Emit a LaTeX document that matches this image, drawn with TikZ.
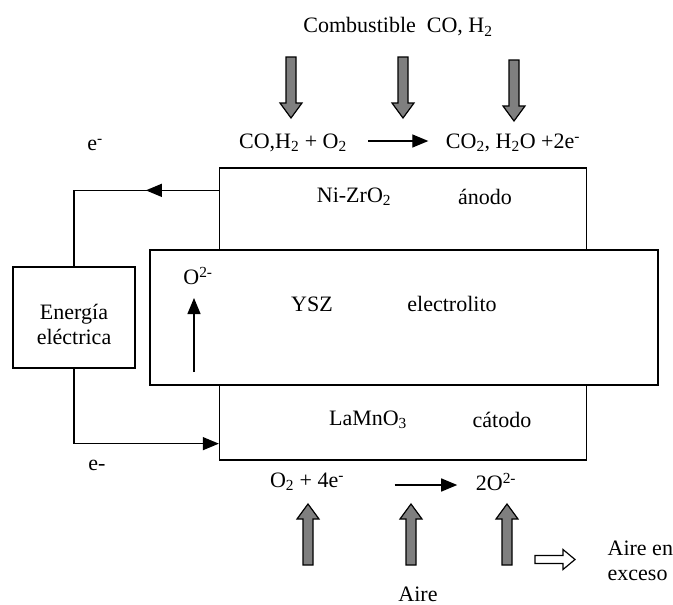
\documentclass[tikz,border=0pt]{standalone}
\usepackage{fontspec}
\setmainfont{Liberation Serif}
\usetikzlibrary{arrows.meta, calc}
\definecolor{flowgray}{HTML}{7F7F7F}

\begin{document}
\begin{tikzpicture}[x=1pt, y=-1pt, line width=1.3pt,
  every node/.style={font=\fontsize{22}{25}\selectfont, inner sep=0pt},
  cellbox/.style={draw, rectangle, inner sep=0pt},
  wiretip/.style={-{Triangle[length=16pt,width=13pt]}},
  gasflow/.pic={\draw[fill=flowgray, line width=1.2pt] (-5,0) -- (5,0) -- (5,46) -- (11,46) -- (0,61) -- (-11,46) -- (-5,46) -- cycle;},
  exhaust/.pic={\draw[fill=white, line width=1.2pt] (0,-4) -- (28,-4) -- (28,-10) -- (40,0) -- (28,10) -- (28,4) -- (0,4) -- cycle;}]
  \useasboundingbox (0,0) rectangle (673,605);

  % Fuel side
  \node (fuel) at (398,27) {Combustible\ \ CO, H\textsubscript{2}};
  \foreach \x/\y in {291/57, 403/57, 514/60}
    \pic at (\x,\y) {gasflow};
  \node (reacA) at (293,143) {CO,H\textsubscript{2} + O\textsubscript{2}};
  \node (prodA) at (513,143) {CO\textsubscript{2}, H\textsubscript{2}O +2e\textsuperscript{-}};
  \draw[wiretip] ($(reacA.east)+(21,-2)$) -- ($(prodA.west)+(-17,-2)$);
  \node (eout) at (95,145) {e\textsuperscript{-}};

  % Cell layers
  \node[cellbox, minimum width=367, minimum height=82] (anodo) at (403,209) {};
  \node[cellbox, minimum width=508, minimum height=135] (electrolito) at (404,317.5) {};
  \node[cellbox, minimum width=367, minimum height=75] (catodo) at (403,422.5) {};
  \node (nizro) at (354,197) {Ni-ZrO\textsubscript{2}};
  \node (anlab) at (485,197) {ánodo};
  \node (ysz) at (312,304) {YSZ};
  \node (ellab) at (452,304) {electrolito};
  \node (lamno) at (368,420) {LaMnO\textsubscript{3}};
  \node (calab) at (502,420) {cátodo};
  \node (ion) at (198,276) {O\textsuperscript{2-}};
  \coordinate (ionbase) at (194,372);
  \draw[wiretip] (ionbase) -- ++(0,-74);

  % External circuit
  \node[cellbox, minimum width=122, minimum height=101,
    label={[align=center, yshift=-7pt]center:Energía\\eléctrica}] (energia) at (74,317.5) {};
  \coordinate (salida) at ($(anodo.north west)+(0,23)$);
  \draw (salida) -- (salida -| energia) -- (energia.north);
  \draw[wiretip] (salida) -- ++(-73,0);
  \coordinate (entrada) at ($(catodo.south west)+(0,-17)$);
  \draw[wiretip] (energia.south) |- (entrada);
  \node (ein) at (97,465) {e-};

  % Air side
  \node (reacC) at (307,482) {O\textsubscript{2} + 4e\textsuperscript{-}};
  \node (prodC) at (496,482) {2O\textsuperscript{2-}};
  \draw[wiretip] ($(reacC.east)+(50,3)$) -- ($(prodC.west)+(-18,3)$);
  \foreach \x in {308, 411, 507}
    \pic[rotate=180] at (\x,565) {gasflow};
  \pic at (535,559.5) {exhaust};
  \node[align=left, anchor=west] (exceso) at (607,561) {Aire en\\exceso};
  \node (aire) at (418,594) {Aire};
\end{tikzpicture}
\end{document}
